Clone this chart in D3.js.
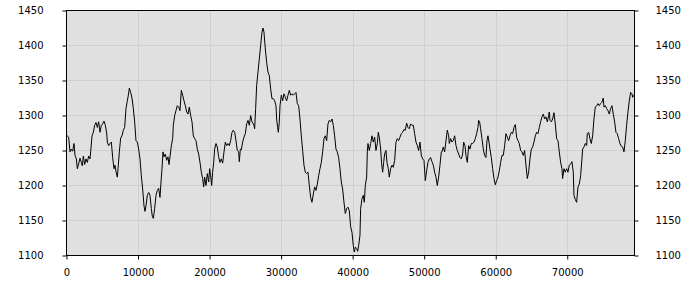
<!DOCTYPE html>
<html>
<head>
<meta charset="utf-8">
<script src="https://cdn.jsdelivr.net/npm/d3@7"></script>
<style>
  html, body { margin: 0; padding: 0; background: #fff; }
  svg { display: block; }
  .tick text { font-family: "DejaVu Sans", Verdana, sans-serif; font-size: 10px; fill: #000; }
</style>
</head>
<body>
<svg id="chart" width="700" height="300"></svg>
<script>
// ---- data ----
const xValues = [0,303,490,676,862,1049,1188,1375,1515,1701,1887,2074,2213,2353,2540,2726,2912,3099,3285,3378,3565,3751,3937,4124,4310,4496,4683,4869,5055,5242,5428,5615,5708,5894,6080,6267,6453,6640,6779,6919,7105,7245,7385,7571,7758,7944,8130,8317,8503,8643,8783,8969,9155,9342,9528,9714,9901,10087,10274,10460,10646,10833,10972,11112,11299,11485,11671,11858,11997,12137,12324,12510,12696,12883,
13070,13209,13349,13489,13629,13815,14001,14188,14327,14467,14654,14840,14933,15120,15306,15492,15679,15865,16051,16238,16424,16610,16797,16983,17169,17356,17542,17729,17915,18101,18288,18474,18660,18847,19033,19173,19313,19499,19685,19872,20011,20151,20291,20431,20571,20710,20897,21083,21269,21456,21642,21828,22015,22201,22388,22574,22760,22947,23133,23319,23506,23692,23878,24065,24158,24298,24438,24624,24810,24997,25183,25369,25556,25742,25928,26115,
26209,26302,26441,26581,26768,26954,27140,27327,27466,27606,27793,27979,28165,28352,28538,28724,28911,29097,29283,29377,29516,29610,29749,29843,30029,30215,30402,30588,30774,30961,31147,31333,31520,31706,31893,32079,32265,32452,32638,32824,33011,33197,33383,33570,33756,33943,34129,34315,34502,34688,34874,35061,35247,35433,35620,35806,35992,36179,36365,36552,36738,36924,37111,37297,37483,37670,37856,38042,38229,38415,38601,38788,38974,39161,39347,
39534,39720,39907,40093,40233,40373,40559,40699,40838,41025,41118,41304,41491,41630,41770,41957,42050,42143,42329,42516,42702,42888,43075,43261,43447,43587,43727,43913,44053,44193,44333,44472,44659,44799,44985,45125,45311,45497,45684,45870,46057,46243,46429,46616,46802,46988,47175,47361,47547,47734,47920,48106,48293,48479,48666,48852,49038,49225,49411,49597,49784,49970,50156,50343,50529,50716,50902,51088,51275,51461,51647,51834,52020,52206,52393,
52488,52674,52860,53047,53233,53419,53513,53699,53885,54072,54258,54444,54631,54817,55003,55190,55376,55516,55702,55842,56028,56215,56401,56587,56774,56960,57147,57333,57519,57612,57752,57892,58078,58265,58451,58637,58777,58917,59057,59197,59383,59569,59756,59942,60128,60315,60501,60687,60874,61060,61246,61433,61619,61806,61992,62178,62365,62551,62737,62924,63110,63296,63483,63669,63856,64042,64228,64415,64601,64787,64974,65160,65346,65533,
65720,65906,66092,66279,66465,66652,66838,67024,67211,67397,67490,67583,67770,67956,68142,68329,68515,68701,68888,69074,69261,69354,69540,69726,69913,70099,70286,70472,70658,70845,70938,71124,71311,71497,71683,71870,72056,72149,72336,72522,72708,72801,72988,73174,73360,73547,73733,73920,74106,74292,74479,74665,74851,75038,75131,75317,75504,75690,75876,76063,76249,76435,76622,76808,76995,77181,77367,77554,77740,77926,78113,78299,78485,78672,78858,79045,79138,79300];

const yValues = [1272,1269,1248,1252,1249,1260,1243,1238,1224,1231,1239,1233,1228,1242,1230,1238,1233,1242,1238,1248,1271,1276,1286,1290,1283,1291,1276,1286,1288,1292,1286,1275,1262,1257,1260,1262,1240,1224,1229,1220,1212,1229,1248,1268,1271,1279,1283,1310,1321,1329,1339,1333,1325,1310,1291,1264,1262,1252,1238,1214,1195,1171,1163,1171,1186,1190,1186,1167,1156,1153,1167,1186,1193,1196,
1183,1205,1224,1248,1241,1245,1236,1241,1230,1241,1257,1267,1286,1300,1307,1314,1312,1307,1336,1329,1321,1314,1305,1302,1312,1300,1291,1271,1267,1264,1252,1245,1233,1219,1210,1198,1212,1200,1217,1205,1224,1214,1200,1219,1233,1252,1260,1255,1241,1233,1238,1232,1248,1262,1257,1260,1257,1264,1276,1279,1276,1264,1250,1248,1234,1252,1251,1262,1269,1274,1288,1293,1286,1300,1291,1288,
1286,1281,1310,1343,1362,1381,1400,1419,1425,1419,1395,1376,1362,1357,1338,1324,1324,1321,1314,1295,1283,1276,1291,1314,1329,1321,1331,1326,1321,1329,1336,1329,1331,1329,1331,1333,1317,1314,1295,1271,1250,1229,1219,1217,1219,1200,1183,1176,1188,1198,1193,1202,1214,1224,1233,1248,1267,1271,1264,1288,1293,1291,1295,1286,1271,1252,1248,1240,1224,1205,1195,1176,1160,1167,1169,
1164,1141,1133,1114,1105,1112,1110,1106,1114,1129,1167,1181,1186,1176,1200,1212,1248,1260,1250,1260,1271,1262,1269,1250,1260,1276,1269,1252,1231,1219,1233,1245,1250,1233,1224,1212,1224,1229,1226,1236,1262,1267,1264,1269,1274,1276,1280,1279,1289,1283,1281,1288,1286,1286,1274,1262,1257,1250,1262,1243,1238,1236,1207,1221,1233,1238,1240,1234,1229,1219,1212,1200,1212,1229,1248,
1248,1255,1248,1264,1279,1271,1260,1267,1262,1264,1271,1257,1250,1245,1240,1238,1245,1262,1257,1243,1233,1257,1252,1260,1260,1262,1267,1274,1283,1293,1291,1281,1267,1252,1243,1240,1264,1271,1262,1252,1240,1224,1210,1201,1207,1212,1221,1233,1243,1243,1257,1274,1269,1264,1271,1276,1274,1283,1287,1269,1264,1260,1250,1248,1243,1250,1229,1210,1219,1238,1252,1255,1262,1271,
1276,1274,1283,1291,1298,1302,1295,1298,1291,1300,1305,1293,1291,1295,1304,1288,1267,1264,1248,1233,1224,1210,1224,1219,1224,1219,1229,1231,1234,1219,1186,1180,1176,1198,1202,1214,1238,1252,1255,1260,1257,1274,1276,1267,1260,1271,1295,1312,1314,1317,1314,1317,1319,1325,1312,1314,1310,1307,1302,1310,1314,1302,1291,1276,1274,1267,1260,1256,1255,1248,1264,1286,1305,1321,1333,1331,1326,1329];

const xDomain = [0, 79400];
const yDomain = [1100, 1450];
const xTicks = [0, 10000, 20000, 30000, 40000, 50000, 60000, 70000];
const yTicks = [1100, 1150, 1200, 1250, 1300, 1350, 1400, 1450];

// ---- drawing ----
const svg = d3.select("#chart");
const L = 66.5, R = 634.5, T = 10.5, B = 255.5;

const x = d3.scaleLinear().domain(xDomain).range([L, R]);
const y = d3.scaleLinear().domain(yDomain).range([B, T]);

// plot background
svg.append("rect")
  .attr("x", L).attr("y", T)
  .attr("width", R - L).attr("height", B - T)
  .attr("fill", "#e0e0e0");

// grid
const grid = svg.append("g").attr("stroke", "#cfcfcf").attr("stroke-width", 1);
grid.selectAll(".gx").data(xTicks.filter(d => d > xDomain[0])).enter().append("line")
  .attr("x1", d => Math.round(x(d)) + 0.5).attr("x2", d => Math.round(x(d)) + 0.5)
  .attr("y1", T).attr("y2", B);
grid.selectAll(".gy").data(yTicks.filter(d => d > yDomain[0] && d < yDomain[1])).enter().append("line")
  .attr("y1", d => y(d)).attr("y2", d => y(d))
  .attr("x1", L).attr("x2", R);

// line
const data = xValues.map((v, i) => [v, yValues[i]]);
svg.append("path")
  .datum(data)
  .attr("fill", "none")
  .attr("stroke", "#000")
  .attr("stroke-width", 1)
  .attr("stroke-linejoin", "round")
  .attr("d", d3.line().x(d => x(d[0])).y(d => y(d[1])));

// border
svg.append("rect")
  .attr("x", L).attr("y", T)
  .attr("width", R - L).attr("height", B - T)
  .attr("fill", "none").attr("stroke", "#000");

// axes
const leftAxis = d3.axisLeft(y).tickValues(yTicks).tickSize(4).tickPadding(19).tickFormat(d3.format("d"));
const rightAxis = d3.axisRight(y).tickValues(yTicks).tickSize(4).tickPadding(17).tickFormat(d3.format("d"));
const bottomAxis = d3.axisBottom(x).tickValues(xTicks).tickSize(4).tickPadding(9).tickFormat(d3.format("d"));

function styleAxis(g) {
  g.select(".domain").remove();
  g.selectAll(".tick line").attr("stroke", "#000");
}
svg.append("g").attr("transform", `translate(${L},0)`).call(leftAxis).call(styleAxis);
svg.append("g").attr("transform", `translate(${R},0)`).call(rightAxis).call(styleAxis);
svg.append("g").attr("transform", `translate(0,${B})`).call(bottomAxis).call(styleAxis);
</script>
</body>
</html>
